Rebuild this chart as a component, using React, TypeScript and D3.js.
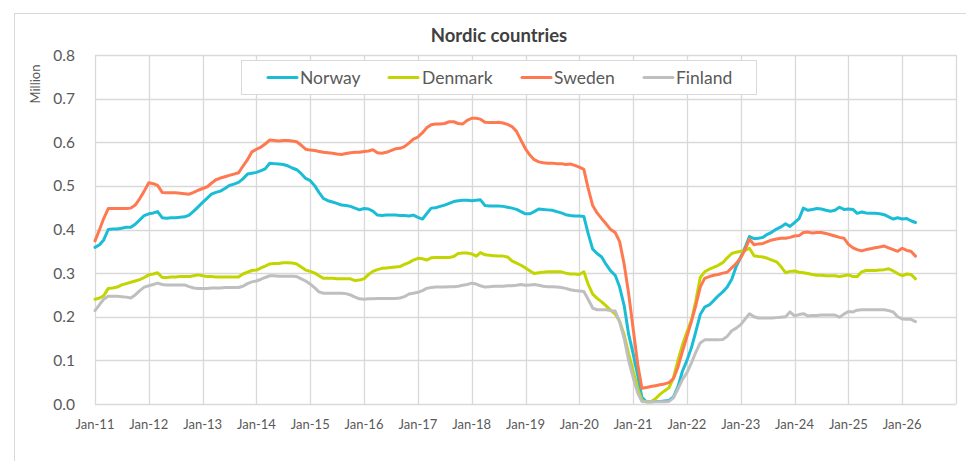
import React from "react";
import * as d3 from "d3";

const seriesNames = ["Norway", "Denmark", "Sweden", "Finland"];
const seriesColors = ["#1BBDD6", "#C3D500", "#FF7950", "#BFBFBF"];
const yTicks = [0, 0.1, 0.2, 0.3, 0.4, 0.5, 0.6, 0.7, 0.8];
const startYear = 2011;
const endYear = 2027;

const norway = [
  0.359, 0.365, 0.376, 0.400, 0.401, 0.401, 0.403, 0.405, 0.405, 0.412, 0.422, 0.432,
  0.436, 0.438, 0.441, 0.427, 0.426, 0.427, 0.427, 0.428, 0.429, 0.433, 0.442, 0.452,
  0.462, 0.472, 0.481, 0.485, 0.488, 0.494, 0.501, 0.504, 0.508, 0.516, 0.527, 0.529,
  0.531, 0.535, 0.539, 0.552, 0.551, 0.550, 0.549, 0.546, 0.541, 0.537, 0.528, 0.517,
  0.512, 0.500, 0.485, 0.471, 0.466, 0.463, 0.460, 0.456, 0.455, 0.453, 0.449, 0.445,
  0.448, 0.447, 0.442, 0.433, 0.432, 0.433, 0.433, 0.433, 0.432, 0.432, 0.431, 0.433,
  0.428, 0.424, 0.436, 0.449, 0.450, 0.453, 0.456, 0.460, 0.464, 0.466, 0.467, 0.467,
  0.466, 0.467, 0.468, 0.455, 0.454, 0.454, 0.454, 0.453, 0.451, 0.449, 0.446, 0.441,
  0.436, 0.436, 0.441, 0.447, 0.446, 0.445, 0.444, 0.441, 0.438, 0.434, 0.432, 0.431,
  0.431, 0.430, 0.391, 0.355, 0.345, 0.337, 0.320, 0.305, 0.295, 0.268, 0.225, 0.160,
  0.115, 0.065, 0.015, 0.005, 0.005, 0.006, 0.006, 0.007, 0.008, 0.016, 0.040, 0.075,
  0.100, 0.130, 0.165, 0.205, 0.222, 0.227, 0.237, 0.248, 0.257, 0.268, 0.286, 0.315,
  0.337, 0.360, 0.384, 0.379, 0.380, 0.382, 0.389, 0.394, 0.401, 0.406, 0.413, 0.407,
  0.416, 0.425, 0.449, 0.444, 0.446, 0.448, 0.447, 0.444, 0.442, 0.444, 0.451, 0.446,
  0.447, 0.446, 0.437, 0.440, 0.438, 0.437, 0.437, 0.436, 0.434, 0.429, 0.424, 0.427,
  0.424, 0.425, 0.420, 0.416,
];

const denmark = [
  0.240, 0.243, 0.248, 0.265, 0.266, 0.268, 0.273, 0.276, 0.279, 0.282, 0.285, 0.290,
  0.296, 0.298, 0.301, 0.290, 0.290, 0.291, 0.291, 0.292, 0.292, 0.292, 0.294, 0.296,
  0.294, 0.292, 0.292, 0.291, 0.291, 0.291, 0.291, 0.291, 0.291, 0.298, 0.302, 0.306,
  0.307, 0.312, 0.316, 0.321, 0.322, 0.322, 0.324, 0.324, 0.323, 0.321, 0.314, 0.307,
  0.304, 0.300, 0.294, 0.288, 0.288, 0.288, 0.287, 0.287, 0.287, 0.287, 0.283, 0.284,
  0.287, 0.297, 0.304, 0.308, 0.311, 0.312, 0.313, 0.314, 0.315, 0.320, 0.324, 0.330,
  0.334, 0.333, 0.330, 0.335, 0.336, 0.336, 0.336, 0.336, 0.338, 0.345, 0.346, 0.346,
  0.344, 0.339, 0.347, 0.342, 0.341, 0.340, 0.339, 0.339, 0.337, 0.328, 0.323, 0.318,
  0.312, 0.305, 0.299, 0.301, 0.302, 0.303, 0.303, 0.303, 0.303, 0.300, 0.298, 0.298,
  0.297, 0.303, 0.275, 0.252, 0.242, 0.234, 0.225, 0.215, 0.206, 0.190, 0.158, 0.115,
  0.075, 0.035, 0.008, 0.005, 0.005, 0.012, 0.022, 0.030, 0.037, 0.060, 0.100, 0.135,
  0.165, 0.193, 0.235, 0.290, 0.303, 0.309, 0.313, 0.318, 0.324, 0.335, 0.345, 0.348,
  0.350, 0.352, 0.357, 0.340, 0.338, 0.337, 0.334, 0.330, 0.326, 0.315, 0.301, 0.304,
  0.305, 0.302, 0.301, 0.299, 0.297, 0.295, 0.295, 0.294, 0.294, 0.294, 0.292, 0.294,
  0.296, 0.292, 0.292, 0.303, 0.306, 0.306, 0.306, 0.307, 0.308, 0.310, 0.305, 0.299,
  0.294, 0.298, 0.297, 0.287,
];

const sweden = [
  0.374, 0.400, 0.425, 0.448, 0.448, 0.448, 0.448, 0.448, 0.449, 0.456, 0.471, 0.488,
  0.507, 0.505, 0.501, 0.485, 0.484, 0.484, 0.484, 0.483, 0.482, 0.481, 0.485, 0.490,
  0.494, 0.498, 0.506, 0.514, 0.518, 0.521, 0.524, 0.527, 0.530, 0.545, 0.560, 0.578,
  0.584, 0.589, 0.596, 0.605, 0.604, 0.603, 0.604, 0.604, 0.603, 0.601, 0.593, 0.584,
  0.582, 0.581, 0.579, 0.577, 0.576, 0.575, 0.573, 0.572, 0.574, 0.576, 0.577, 0.577,
  0.579, 0.580, 0.583, 0.576, 0.575, 0.577, 0.581, 0.585, 0.586, 0.590, 0.598, 0.607,
  0.612, 0.622, 0.633, 0.640, 0.642, 0.642, 0.643, 0.647, 0.647, 0.643, 0.642, 0.650,
  0.655, 0.655, 0.653, 0.646, 0.645, 0.645, 0.646, 0.644, 0.641, 0.636, 0.625, 0.605,
  0.585, 0.570, 0.560, 0.555, 0.553, 0.552, 0.552, 0.551, 0.551, 0.549, 0.550, 0.547,
  0.543, 0.538, 0.495, 0.455, 0.438, 0.425, 0.413, 0.400, 0.393, 0.372, 0.320, 0.253,
  0.172, 0.090, 0.036, 0.038, 0.040, 0.042, 0.044, 0.046, 0.049, 0.058, 0.085, 0.120,
  0.155, 0.190, 0.225, 0.268, 0.288, 0.292, 0.295, 0.297, 0.300, 0.302, 0.312, 0.322,
  0.335, 0.355, 0.378, 0.365, 0.367, 0.368, 0.372, 0.376, 0.378, 0.380, 0.380, 0.382,
  0.385, 0.386, 0.393, 0.394, 0.392, 0.393, 0.393, 0.391, 0.388, 0.385, 0.382, 0.380,
  0.366, 0.358, 0.354, 0.351, 0.354, 0.356, 0.358, 0.360, 0.362, 0.358, 0.354, 0.350,
  0.357, 0.352, 0.350, 0.339,
];

const finland = [
  0.214, 0.228, 0.240, 0.247, 0.247, 0.247, 0.246, 0.245, 0.243, 0.250, 0.260, 0.268,
  0.271, 0.274, 0.277, 0.274, 0.273, 0.273, 0.273, 0.273, 0.273, 0.269, 0.266, 0.265,
  0.265, 0.265, 0.266, 0.266, 0.266, 0.267, 0.267, 0.267, 0.267, 0.270, 0.276, 0.280,
  0.282, 0.286, 0.290, 0.294, 0.294, 0.293, 0.293, 0.293, 0.293, 0.292, 0.287, 0.282,
  0.275, 0.266, 0.257, 0.254, 0.254, 0.254, 0.254, 0.254, 0.253, 0.250, 0.245, 0.241,
  0.240, 0.241, 0.241, 0.242, 0.242, 0.242, 0.242, 0.242, 0.243, 0.246, 0.252, 0.254,
  0.256, 0.260, 0.265, 0.267, 0.268, 0.268, 0.268, 0.269, 0.269, 0.270, 0.272, 0.274,
  0.277, 0.275, 0.271, 0.268, 0.269, 0.270, 0.270, 0.270, 0.271, 0.271, 0.272, 0.274,
  0.272, 0.273, 0.274, 0.272, 0.270, 0.269, 0.269, 0.268, 0.267, 0.265, 0.262, 0.260,
  0.259, 0.258, 0.240, 0.220, 0.216, 0.216, 0.216, 0.214, 0.213, 0.188, 0.150, 0.100,
  0.060, 0.025, 0.006, 0.005, 0.005, 0.005, 0.005, 0.005, 0.006, 0.014, 0.035, 0.056,
  0.072, 0.095, 0.118, 0.140, 0.147, 0.147, 0.147, 0.147, 0.148, 0.155, 0.168, 0.174,
  0.182, 0.195, 0.207, 0.200, 0.197, 0.197, 0.197, 0.197, 0.198, 0.199, 0.200, 0.211,
  0.202, 0.205, 0.207, 0.202, 0.203, 0.203, 0.204, 0.204, 0.204, 0.204, 0.199, 0.206,
  0.212, 0.211, 0.215, 0.216, 0.216, 0.216, 0.216, 0.216, 0.216, 0.214, 0.211, 0.200,
  0.195, 0.194, 0.194, 0.189,
];

const allSeries = [norway, denmark, sweden, finland];

const W = 966;
const H = 461;
const plot = { left: 95, right: 956, top: 55, bottom: 404 };
const FONT = "Lato, 'Open Sans', 'DejaVu Sans', sans-serif";
const GRID = "#D9D9D9";
const TEXT = "#595959";

export default function App() {
  const x = d3
    .scaleTime()
    .domain([new Date(startYear, 0, 1), new Date(endYear, 0, 1)])
    .range([plot.left, plot.right]);
  const y = d3.scaleLinear().domain([0, 0.8]).range([plot.bottom, plot.top]);

  const yearTicks = d3.timeYear.range(new Date(startYear, 0, 1), new Date(endYear, 0, 1));

  const line = d3
    .line<number>()
    .x((_, i) => x(new Date(startYear, i, 1)))
    .y((v) => y(v))
    .curve(d3.curveLinear);

  const legendItems = [
    { lx: 268, tx: 300 },
    { lx: 389, tx: 422 },
    { lx: 522, tx: 554 },
    { lx: 644, tx: 676 },
  ];

  return (
    <svg
      width={W}
      height={H}
      style={{ position: "absolute", left: 0, top: 0, background: "#fff" }}
      fontFamily={FONT}
    >
      <rect x={0} y={0} width={W} height={H} fill="#fff" />
      {/* outer chart border */}
      <line x1={14} y1={13.5} x2={W} y2={13.5} stroke={GRID} strokeWidth={1} />
      <line x1={14.5} y1={13.5} x2={14.5} y2={H} stroke={GRID} strokeWidth={1} />

      {/* title */}
      <text x={499} y={42} textAnchor="middle" fontSize={18.5} fontWeight="bold" fill="#404040">
        Nordic countries
      </text>

      {/* horizontal gridlines */}
      {yTicks.map((t) => (
        <line
          key={"h" + t}
          x1={plot.left}
          x2={plot.right}
          y1={Math.round(y(t)) + 0.5}
          y2={Math.round(y(t)) + 0.5}
          stroke={GRID}
          strokeWidth={1.3}
        />
      ))}
      {/* vertical gridlines */}
      {yearTicks.concat([new Date(endYear, 0, 1)]).map((d) => (
        <line
          key={"v" + d.getFullYear()}
          x1={Math.round(x(d)) + 0.5}
          x2={Math.round(x(d)) + 0.5}
          y1={plot.top}
          y2={plot.bottom}
          stroke={GRID}
          strokeWidth={1.3}
        />
      ))}

      {/* y tick labels */}
      {yTicks.map((t) => (
        <text
          key={"yl" + t}
          x={75}
          y={y(t)}
          dy="0.36em"
          textAnchor="end"
          fontSize={15.5}
          fill={TEXT}
        >
          {d3.format(".1f")(t)}
        </text>
      ))}
      <text
        transform={`translate(40,84) rotate(-90)`}
        textAnchor="middle"
        fontSize={13}
        fill={TEXT}
      >
        Million
      </text>

      {/* x tick labels */}
      {yearTicks.map((d) => (
        <text
          key={"xl" + d.getFullYear()}
          x={x(d)}
          y={429}
          textAnchor="middle"
          fontSize={13}
          fill={TEXT}
        >
          {d3.timeFormat("%b-%y")(d)}
        </text>
      ))}

      {/* series lines */}
      {allSeries.map((s, i) => (
        <path
          key={seriesNames[i]}
          d={line(s) || ""}
          fill="none"
          stroke={seriesColors[i]}
          strokeWidth={3}
          strokeLinejoin="round"
          strokeLinecap="round"
        />
      ))}

      {/* legend */}
      <rect x={241.5} y={60.5} width={515} height={34} fill="#fff" stroke={GRID} strokeWidth={1} />
      {seriesNames.map((n, i) => (
        <g key={"lg" + n}>
          <line
            x1={legendItems[i].lx}
            x2={legendItems[i].lx + 29}
            y1={77.5}
            y2={77.5}
            stroke={seriesColors[i]}
            strokeWidth={3}
            strokeLinecap="round"
          />
          <text x={legendItems[i].tx} y={84} fontSize={17.5} fill={TEXT}>
            {n}
          </text>
        </g>
      ))}
    </svg>
  );
}
